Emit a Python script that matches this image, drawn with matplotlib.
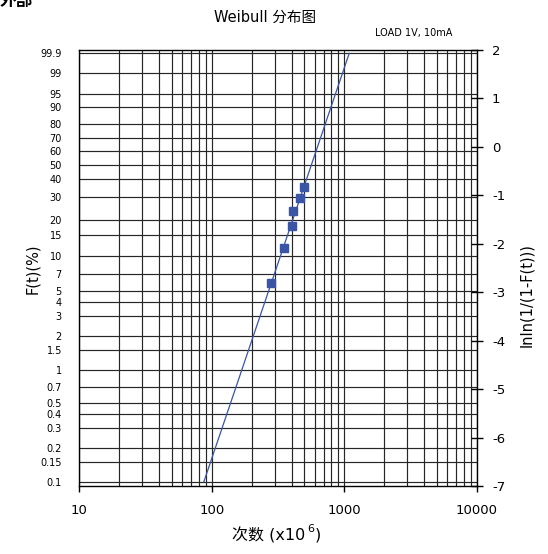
import numpy as np
import matplotlib
matplotlib.use('Agg')
import matplotlib.pyplot as plt
from matplotlib.ticker import FixedLocator, NullFormatter

plt.rcParams['font.family'] = ['DejaVu Sans', 'Noto Sans CJK SC']

# failures: cycles (x10^6) and cumulative failure (%)
cycles = [281, 351, 405, 412, 463, 499]
fail_pct = [5.88, 11.76, 17.65, 23.53, 29.41, 35.29]

# fitted weibull line
beta = 3.5
eta = 628
fit_pct = [0.1, 99.9]

f_ticks = [99.9, 99, 95, 90, 80, 70, 60, 50, 40, 30, 20, 15, 10, 7, 5, 4, 3,
           2, 1.5, 1, 0.7, 0.5, 0.4, 0.3, 0.2, 0.15, 0.1]
f_labels = ['99.9', '99', '95', '90', '80', '70', '60', '50', '40', '30', '20',
            '15', '10', '7', '5', '4', '3', '2', '1.5', '1', '0.7', '0.5',
            '0.4', '0.3', '0.2', '0.15', '0.1']
right_ticks = [2, 1, 0, -1, -2, -3, -4, -5, -6, -7]
x_ticks = [10, 100, 1000, 10000]
x_labels = ['10', '100', '1000', '10000']

BLUE = '#3a55a5'


def lnln(p):
    p = np.asarray(p, dtype=float) / 100.0
    return np.log(np.log(1.0 / (1.0 - p)))


fig = plt.figure(figsize=(5.48, 5.54), dpi=100)
ax = fig.add_axes([0.1447, 0.1227, 0.7252, 0.7870])

ax.set_xscale('log')
ax.set_xlim(10, 10000)
ax.set_ylim(-7, 2)

# fitted line
fit_y = lnln(fit_pct)
fit_x = eta * np.exp(fit_y / beta)
ax.plot(fit_x, fit_y, color=BLUE, lw=0.9, zorder=4)

# data points
ax.plot(cycles, lnln(fail_pct), 's', color=BLUE, ms=6, mec=BLUE, zorder=5)

# left axis: F(t) scale
ax.set_yticks(lnln(f_ticks))
ax.set_yticklabels(f_labels, fontsize=7)
ax.tick_params(axis='y', length=0, pad=12.5)

# x axis
ax.xaxis.set_major_locator(FixedLocator(x_ticks))
ax.set_xticklabels(x_labels, fontsize=9.5)
ax.xaxis.set_minor_locator(FixedLocator(
    [m * d for d in [10, 100, 1000] for m in range(2, 10)]))
ax.xaxis.set_minor_formatter(NullFormatter())
ax.tick_params(axis='x', which='major', direction='out', length=4, pad=9, width=1)
ax.tick_params(axis='x', which='minor', length=0)

ax.grid(True, which='both', axis='x', color='#262626', lw=0.85)
ax.grid(True, which='major', axis='y', color='#262626', lw=0.85)
ax.set_axisbelow(True)
for s in ax.spines.values():
    s.set_color('black')
    s.set_linewidth(1.0)

# right axis: lnln scale
ax2 = ax.twinx()
ax2.set_ylim(-7, 2)
ax2.set_yticks(right_ticks)
ax2.set_yticklabels([str(v) for v in right_ticks], fontsize=9.5)
ax2.tick_params(axis='y', direction='inout', length=8, width=1, pad=7)
for s in ax2.spines.values():
    s.set_visible(False)

fig.text(0.060, 0.515, 'F(t)(%)', rotation=90, ha='center', va='center', fontsize=10.5)
fig.text(0.961, 0.468, 'lnln(1/(1-F(t)))', rotation=90, ha='center', va='center', fontsize=10.5)

# x label with a raised exponent
fig.text(0.5575, 0.034, '次数 (x10', ha='right', va='center', fontsize=11.5)
fig.text(0.5610, 0.046, '6', ha='left', va='center', fontsize=8)
fig.text(0.5740, 0.034, ')', ha='left', va='center', fontsize=11.5)

fig.text(0.484, 0.969, 'Weibull 分布图', ha='center', va='center', fontsize=10.5)
fig.text(0.825, 0.940, 'LOAD 1V, 10mA', ha='right', va='center', fontsize=7)
fig.text(0.0, 0.999, '外部', ha='left', va='center', fontsize=12, fontweight='bold')

fig.savefig('out.png', dpi=100)
